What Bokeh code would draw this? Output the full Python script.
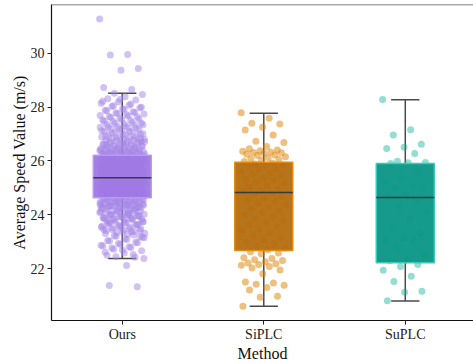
from bokeh.plotting import figure
from bokeh.models import ColumnDataSource, FixedTicker, Span
from bokeh.embed import file_html
from bokeh.resources import INLINE

methods = ["Ours", "SiPLC", "SuPLC"]

ours_speed = [
    31.27, 29.95, 29.93, 29.43, 29.37, 28.73, 28.65, 28.51, 28.47, 28.38,
    28.31, 28.26, 28.19, 28.14, 28.07, 28.02, 27.97, 27.94, 27.88, 27.83,
    27.79, 27.74, 27.71, 27.65, 27.63, 27.58, 27.52, 27.50, 27.46, 27.41,
    27.38, 27.35, 27.32, 27.28, 27.25, 27.23, 27.19, 27.17, 27.14, 27.10,
    27.08, 27.06, 27.01, 26.99, 26.96, 26.93, 26.91, 26.89, 26.87, 26.84,
    26.82, 26.80, 26.78, 26.77,
    26.74, 26.71, 26.70, 26.67, 26.66, 26.62, 26.61, 26.59, 26.56, 26.55,
    26.53, 26.52, 26.49, 26.48, 26.46, 26.45, 26.43, 26.41, 26.40, 26.38,
    26.37, 26.36, 26.34, 26.33, 26.32, 26.30, 26.29, 26.28, 26.27, 26.26,
    26.73, 26.64, 26.58, 26.50, 26.44, 26.39, 26.35, 26.31, 26.28, 26.25,
    26.24, 26.22, 26.21, 26.19, 26.18, 26.16, 26.15, 26.13, 26.12, 26.10,
    26.09, 26.07, 26.06, 26.04, 26.03, 26.01, 26.00, 25.98, 25.97, 25.95,
    25.94, 25.92, 25.91, 25.89, 25.88, 25.86, 25.85, 25.83, 25.82, 25.80,
    25.79, 25.77, 25.76, 26.23, 26.20, 26.17, 26.14, 26.11, 26.08, 26.05,
    26.02, 25.99, 25.96, 25.93, 25.90, 25.87, 25.84, 25.81, 25.78, 25.75,
    26.24, 26.13, 26.02, 25.93, 25.84, 25.77,
    25.74, 25.72, 25.71, 25.69, 25.68, 25.66, 25.65, 25.63, 25.62, 25.60,
    25.59, 25.57, 25.56, 25.54, 25.53, 25.51, 25.50, 25.48, 25.47, 25.45,
    25.44, 25.42, 25.41, 25.39, 25.38, 25.36, 25.35, 25.33, 25.32, 25.30,
    25.29, 25.27, 25.26, 25.73, 25.70, 25.67, 25.64, 25.61, 25.58, 25.55,
    25.52, 25.49, 25.46, 25.43, 25.40, 25.37, 25.34, 25.31, 25.28, 25.25,
    25.74, 25.68, 25.62, 25.57, 25.52, 25.47, 25.42, 25.37, 25.33, 25.28,
    25.71, 25.63, 25.55, 25.48, 25.41, 25.34, 25.29, 25.26,
    25.24, 25.23, 25.21, 25.20, 25.18, 25.17, 25.15, 25.14, 25.12, 25.11,
    25.09, 25.08, 25.06, 25.05, 25.03, 25.02, 25.00, 24.99, 24.97, 24.96,
    24.94, 24.93, 24.91, 24.90, 24.88, 24.87, 24.85, 24.84, 24.82, 24.81,
    24.79, 24.78, 24.76, 25.22, 25.19, 25.16, 25.13, 25.10, 25.07, 25.04,
    25.01, 24.98, 24.95, 24.92, 24.89, 24.86, 24.83, 24.80, 24.77, 24.75,
    25.24, 25.18, 25.12, 25.06, 25.00, 24.94, 24.88, 24.83, 24.79, 24.76,
    25.21, 25.14, 25.07, 25.01, 24.95, 24.89, 24.84, 24.78,
    24.74, 24.72, 24.71, 24.69, 24.67, 24.66, 24.64, 24.62, 24.61, 24.59,
    24.57, 24.56, 24.54, 24.52, 24.51, 24.49, 24.47, 24.46, 24.44, 24.42,
    24.41, 24.39, 24.37, 24.36, 24.34, 24.32, 24.31, 24.29, 24.27, 24.26,
    24.73, 24.68, 24.63, 24.58, 24.53, 24.48, 24.43, 24.38, 24.33, 24.28,
    24.70, 24.60, 24.50, 24.45, 24.40, 24.35, 24.30, 24.25,
    24.24, 24.22, 24.19, 24.17, 24.14, 24.12, 24.09, 24.07, 24.04, 24.02,
    23.99, 23.97, 23.94, 23.92, 23.89, 23.87, 23.84, 23.82, 23.79, 23.77,
    24.21, 24.16, 24.11, 24.06, 24.01, 23.96, 23.91, 23.86, 23.81, 23.76,
    23.74, 23.71, 23.68, 23.64, 23.61, 23.58, 23.54, 23.51, 23.48, 23.44,
    23.41, 23.38, 23.34, 23.31, 23.27, 23.72, 23.63, 23.55, 23.46, 23.37,
    23.22, 23.16, 23.11, 23.04, 22.98, 22.93, 22.87, 22.81, 22.76, 23.19,
    22.69, 22.61, 22.52, 22.44, 22.37, 22.11, 21.37, 21.32,
    28.28, 28.22, 28.11, 28.05, 27.99, 27.91, 27.86, 27.80, 27.76, 27.69,
    27.67, 27.61, 27.56, 27.53, 27.47, 27.43, 27.39, 27.34, 27.29, 27.26,
    27.21, 27.18, 27.12, 27.09, 27.03, 26.98, 26.95, 26.90, 26.86, 26.83,
    26.79, 26.75, 26.72, 26.69, 26.65, 26.63, 26.60, 26.57, 26.54, 26.51,
    26.47, 26.44, 26.42, 26.39, 26.36, 26.33, 26.31, 26.29, 26.26, 26.23,
    24.58, 24.55, 24.52, 24.48, 24.45, 24.41, 24.38, 24.34, 24.31, 24.27,
    24.23, 24.20, 24.16, 24.13, 24.08, 24.05, 24.00, 23.96, 23.93, 23.88,
    23.85, 23.80, 23.75, 23.70, 23.66, 23.62, 23.57, 23.53, 23.49, 23.45,
    23.40, 23.35, 23.30, 23.25, 23.20, 23.14, 23.08, 23.02, 22.96, 22.90,
    22.84, 22.78, 22.72, 22.66, 22.58, 22.49, 22.42, 24.62, 24.35, 23.99,
]

siplc_speed = [
    27.79, 27.58, 27.40, 27.37, 27.25, 27.15, 26.96, 26.73, 26.68, 26.53,
    26.45, 26.40, 26.38, 26.36, 26.33, 26.31, 26.30, 26.28, 26.25, 26.22,
    26.20, 26.15, 26.12, 26.08, 26.05, 26.02, 25.98,
    25.92, 25.88, 25.85, 25.80, 25.76, 25.71, 25.66, 25.60, 25.55, 25.50,
    25.44, 25.38, 25.33, 25.27, 25.20, 25.14, 25.08, 25.02, 24.96, 24.90,
    24.86, 24.80, 24.74, 24.67, 24.60, 24.55, 24.49, 24.42, 24.36, 24.30,
    24.22, 24.15, 24.08, 24.00, 23.93, 23.86, 23.78, 23.70, 23.62, 23.55,
    23.47, 23.40, 23.31, 23.22, 23.15, 23.06, 22.98, 22.90, 22.83, 22.75,
    22.70,
    22.62, 22.58, 22.55, 22.40, 22.37, 22.33, 22.30, 22.25, 22.21, 22.18,
    22.15, 22.12, 22.08, 22.02, 21.95, 21.81, 21.50, 21.46, 21.42, 21.38,
    21.30, 21.20, 20.97, 20.93, 20.60,
]

suplc_speed = [
    28.28, 27.16, 26.96, 26.62, 26.51, 26.46, 26.27, 25.99, 25.94, 25.93,
    25.90, 25.60, 25.38, 25.20, 25.05, 25.00, 24.97, 24.75, 24.70, 24.55,
    24.30, 24.10, 23.85, 23.57, 23.30, 23.13, 23.03, 23.01, 22.77, 22.50,
    22.33, 22.30, 22.15, 22.08, 21.94, 21.71, 21.52, 21.16, 21.12, 20.80,
]

# box statistics
q1 = [24.63, 22.67, 22.22]
median = [25.37, 24.83, 24.64]
q3 = [26.21, 25.95, 25.90]
whisker_low = [22.37, 20.60, 20.79]
whisker_high = [28.51, 27.77, 28.27]
y_ticks = [22, 24, 26, 28, 30]

box_fill = ["#9F78E4", "#B46D0E", "#099585"]
box_edge = ["#B69CEE", "#E08A12", "#38CBB8"]
point_color = ["#A585E8", "#DB8101", "#12B49E"]
point_alpha = [0.5, 0.5, 0.45]

FONT = "Liberation Serif"
BOX_W = 0.41
CAP_W = 0.2
JIT = 0.32

p = figure(width=473, height=364, x_range=(-0.5, 2.482), y_range=(20.07, 31.81),
           output_backend="svg", toolbar_location=None,
           min_border_left=51, min_border_right=0, min_border_top=4, min_border_bottom=43)
p.background_fill_color = "white"
p.border_fill_color = "white"
p.outline_line_color = None
p.xgrid.visible = False
p.ygrid.visible = False

idx = list(range(len(methods)))

box_src = ColumnDataSource(dict(
    x=idx, q1=q1, q3=q3, med=median, lo=whisker_low, hi=whisker_high,
    fill=box_fill, edge=box_edge,
    left=[i - BOX_W / 2 for i in idx], right=[i + BOX_W / 2 for i in idx],
    cl=[i - CAP_W / 2 for i in idx], cr=[i + CAP_W / 2 for i in idx],
))

WH = "#4a4a4a"
p.segment(x0="x", y0="q3", x1="x", y1="hi", source=box_src, line_color=WH, line_width=1.5)
p.segment(x0="x", y0="lo", x1="x", y1="q1", source=box_src, line_color=WH, line_width=1.5)
p.segment(x0="cl", y0="hi", x1="cr", y1="hi", source=box_src, line_color=WH, line_width=1.5)
p.segment(x0="cl", y0="lo", x1="cr", y1="lo", source=box_src, line_color=WH, line_width=1.5)

all_series = [ours_speed, siplc_speed, suplc_speed]
for i, vals in enumerate(all_series):
    xs = [i + ((k * 0.6180339887) % 1.0 - 0.5) * JIT for k in range(len(vals))]
    src = ColumnDataSource(dict(x=xs, y=vals))
    p.scatter(x="x", y="y", source=src, size=7, fill_color=point_color[i],
              fill_alpha=point_alpha[i], line_color=None)

p.vbar(x="x", width=BOX_W, bottom="q1", top="q3", source=box_src,
       fill_color="fill", fill_alpha=0.95, line_color="edge", line_width=1.5)
p.segment(x0="left", y0="med", x1="right", y1="med", source=box_src, line_color="#3a3a3a", line_width=1.5)

p.add_layout(Span(location=31.81, dimension="width", line_color="#555555", line_width=1.5))

p.xaxis.ticker = FixedTicker(ticks=idx)
p.xaxis.major_label_overrides = {i: m for i, m in enumerate(methods)}
p.yaxis.ticker = FixedTicker(ticks=y_ticks)
p.xaxis.axis_label = "Method"
p.yaxis.axis_label = "Average Speed Value (m/s)"

for ax in (p.xaxis, p.yaxis):
    ax.axis_label_text_font = FONT
    ax.axis_label_text_font_style = "normal"
    ax.axis_label_text_font_size = "16px"
    ax.axis_label_text_color = "#111111"
    ax.major_label_text_font = FONT
    ax.major_label_text_font_size = "14px"
    ax.major_label_text_color = "#222222"
    ax.axis_line_color = "#111111"
    ax.axis_line_width = 1.2
    ax.major_tick_line_color = "#222222"
    ax.major_tick_in = 0
    ax.major_tick_out = 4
    ax.minor_tick_line_color = None
    ax.major_label_standoff = 3
    ax.axis_label_standoff = 0

p.xaxis.major_label_standoff = 2

open("out.html", "w").write(file_html(p, INLINE))
